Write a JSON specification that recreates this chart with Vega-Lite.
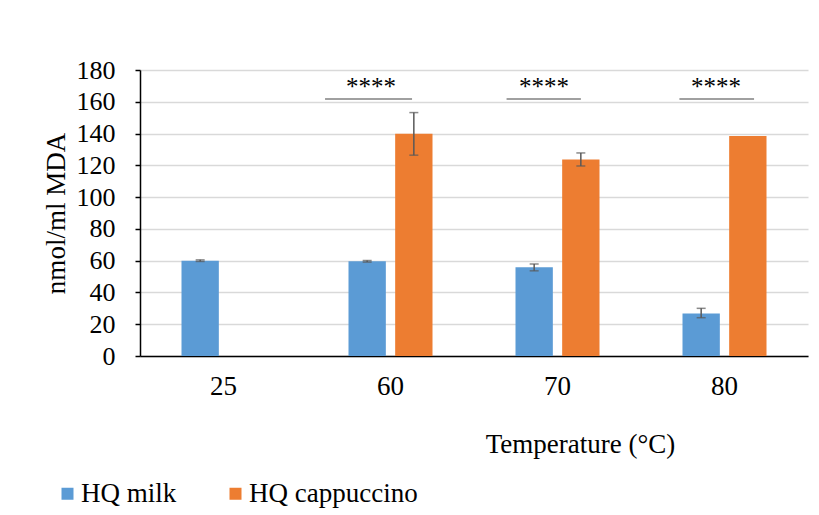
{
  "$schema": "https://vega.github.io/schema/vega-lite/v6.json",
  "width": 668,
  "height": 286,
  "autosize": {"type": "none"},
  "padding": {"left": 140, "top": 70, "right": 11, "bottom": 159},
  "background": "white",
  "config": {
    "font": "Times New Roman",
    "view": {"stroke": null},
    "axis": {"labelFont": "Times New Roman", "titleFont": "Times New Roman"},
    "axisY": {
      "tickCount": 9, "labelOverlap": false,
      "titleFontSize": 27, "titleFontWeight": "normal", "titleColor": "black",
      "titleX": -84, "titleY": 143, "titleBaseline": "middle", "titleAngle": -90,
      "labelFontSize": 26, "labelColor": "black", "labelPadding": 20,
      "tickColor": "black", "tickSize": 5, "tickWidth": 1.5,
      "domainColor": "black", "domainWidth": 1.5,
      "grid": true, "gridColor": "#d9d9d9", "gridWidth": 1.5
    },
    "legend": {"labelFont": "Times New Roman"},
    "text": {"font": "Times New Roman"}
  },
  "datasets": {
    "bars": [
      {"temp": "25", "group": "HQ milk", "value": 60, "lo": 59.5, "hi": 60.5},
      {"temp": "60", "group": "HQ milk", "value": 59.6, "lo": 59.1, "hi": 60.1},
      {"temp": "60", "group": "HQ cappuccino", "value": 139.8, "lo": 126.4, "hi": 153.2},
      {"temp": "70", "group": "HQ milk", "value": 55.8, "lo": 53.6, "hi": 57.9},
      {"temp": "70", "group": "HQ cappuccino", "value": 123.7, "lo": 119.6, "hi": 127.8},
      {"temp": "80", "group": "HQ milk", "value": 26.8, "lo": 24.1, "hi": 30.0},
      {"temp": "80", "group": "HQ cappuccino", "value": 138.5, "lo": null, "hi": null}
    ],
    "sig": [
      {"start": 1.108, "end": 1.629, "mid": 1.383, "line": 161.7, "star": 171.5, "label": "****"},
      {"start": 2.195, "end": 2.64, "mid": 2.419, "line": 161.7, "star": 171.5, "label": "****"},
      {"start": 3.23, "end": 3.677, "mid": 3.449, "line": 161.7, "star": 171.5, "label": "****"}
    ]
  },
  "layer": [
    {
      "data": {"name": "bars"},
      "encoding": {
        "x": {
          "field": "temp", "type": "nominal", "sort": ["25", "60", "70", "80"],
          "scale": {"paddingInner": 0.497, "paddingOuter": 0.2485},
          "axis": {
            "title": "Temperature (°C)", "titleFontSize": 27, "titleFontWeight": "normal",
            "titleColor": "black", "titleX": 440, "titleY": 88, "titleBaseline": "middle",
            "labelAngle": 0, "labelFontSize": 27, "labelColor": "black", "labelPadding": 17,
            "ticks": false, "domainColor": "black", "domainWidth": 1.5
          }
        },
        "xOffset": {"field": "group", "type": "nominal", "sort": ["HQ milk", "HQ cappuccino"], "scale": {"paddingInner": 0.2, "paddingOuter": 0}}
      },
      "layer": [
        {
          "mark": {"type": "bar"},
          "encoding": {
            "y": {
              "field": "value", "type": "quantitative", "title": "nmol/ml MDA",
              "scale": {"domain": [0, 180], "nice": false}
            },
            "color": {
              "field": "group", "type": "nominal",
              "scale": {"domain": ["HQ milk", "HQ cappuccino"], "range": ["#5b9bd5", "#ed7d31"]},
              "legend": {
                "title": null, "orient": "none", "direction": "horizontal",
                "legendX": -86, "legendY": 410, "padding": 0,
                "symbolType": "square", "symbolSize": 144, "symbolStrokeWidth": 0,
                "labelFontSize": 27, "labelColor": "black", "labelOffset": 0, "labelLimit": 400,
                "columnPadding": 45
              }
            }
          }
        },
        {
          "transform": [{"filter": "isValid(datum.lo)"}],
          "mark": {"type": "rule", "color": "#595959", "strokeWidth": 1.5},
          "encoding": {"y": {"field": "lo", "type": "quantitative", "title": "nmol/ml MDA"}, "y2": {"field": "hi"}}
        },
        {
          "transform": [{"filter": "isValid(datum.lo)"}],
          "mark": {"type": "tick", "color": "#595959", "thickness": 1.5, "size": 9},
          "encoding": {"y": {"field": "lo", "type": "quantitative", "title": "nmol/ml MDA"}}
        },
        {
          "transform": [{"filter": "isValid(datum.hi)"}],
          "mark": {"type": "tick", "color": "#595959", "thickness": 1.5, "size": 9},
          "encoding": {"y": {"field": "hi", "type": "quantitative", "title": "nmol/ml MDA"}}
        }
      ]
    },
    {
      "data": {"name": "sig"},
      "layer": [
        {
          "mark": {"type": "rule", "color": "#808080", "strokeWidth": 1.5},
          "encoding": {
            "x": {"field": "start", "type": "quantitative", "scale": {"domain": [0, 4], "nice": false, "zero": false}, "axis": null},
            "x2": {"field": "end"},
            "y": {"field": "line", "type": "quantitative", "title": "nmol/ml MDA"}
          }
        },
        {
          "mark": {"type": "text", "fontSize": 25, "color": "black", "baseline": "middle", "dy": 3},
          "encoding": {
            "x": {"field": "mid", "type": "quantitative", "scale": {"domain": [0, 4], "nice": false, "zero": false}, "axis": null},
            "y": {"field": "star", "type": "quantitative", "title": "nmol/ml MDA"},
            "text": {"field": "label"}
          }
        }
      ]
    }
  ],
  "resolve": {"scale": {"x": "independent"}}
}
